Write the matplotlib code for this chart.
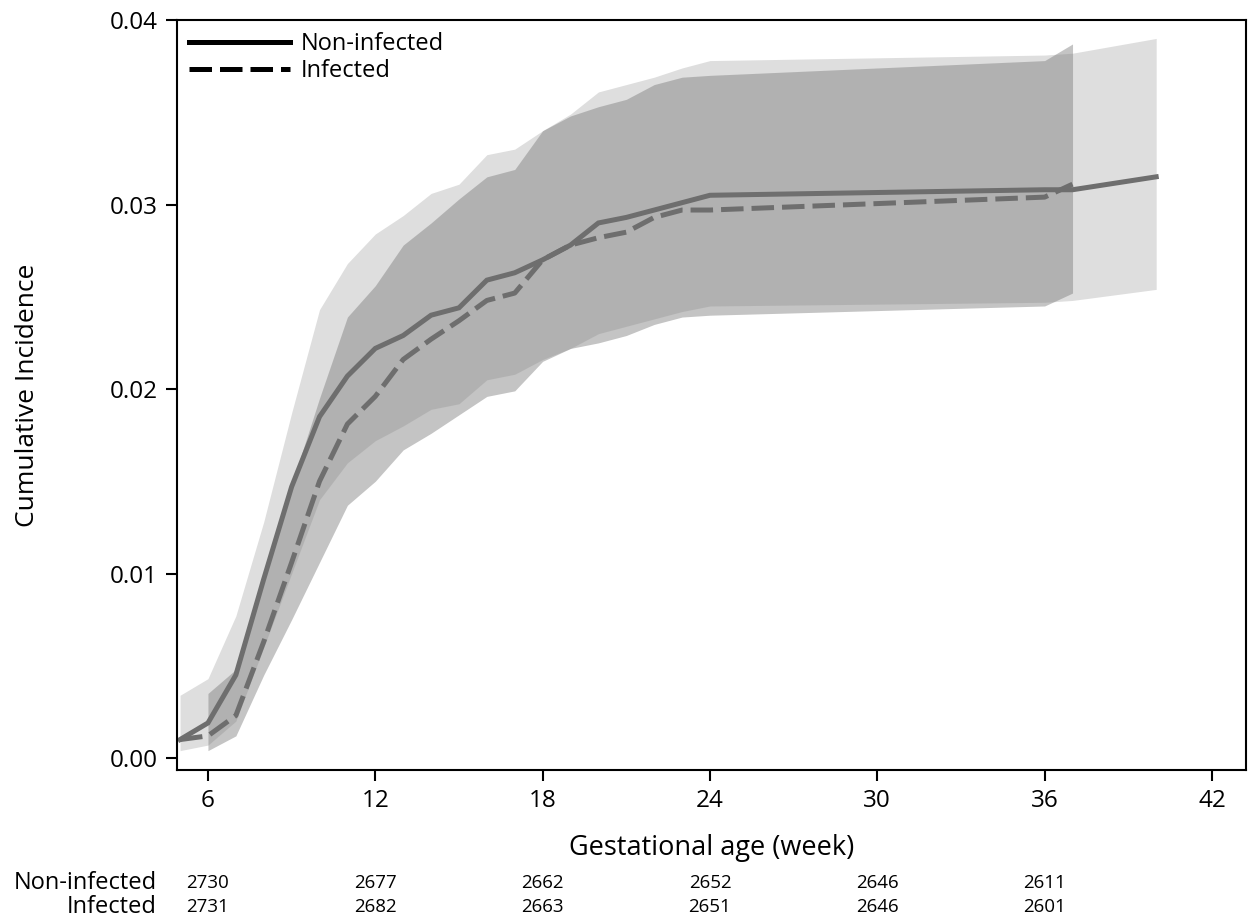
import matplotlib
matplotlib.use('Agg')
import matplotlib.pyplot as plt
from matplotlib.lines import Line2D

plt.rcParams['font.family'] = ['Open Sans', 'DejaVu Sans']

# Non-infected group: cumulative incidence and 95% CI
weeks_ni = [5, 6, 7, 8, 9, 10, 11, 12, 13, 14, 15, 16, 17, 18, 19, 20, 21, 22, 23, 24, 36, 37, 40]
ci_ni = [0.0010, 0.0019, 0.0045, 0.0097, 0.0147, 0.0185, 0.0207, 0.0222, 0.0229, 0.0240, 0.0244,
         0.0259, 0.0263, 0.0270, 0.0278, 0.0290, 0.0293, 0.0297, 0.0301, 0.0305, 0.0308, 0.0308, 0.0315]
hi_ni = [0.0034, 0.0043, 0.0077, 0.0128, 0.0187, 0.0243, 0.0268, 0.0284, 0.0294, 0.0306, 0.0311,
         0.0327, 0.0330, 0.0340, 0.0349, 0.0361, 0.0365, 0.0369, 0.0374, 0.0378, 0.0381, 0.0382, 0.0390]
lo_ni = [0.0004, 0.0007, 0.0020, 0.0060, 0.0100, 0.0140, 0.0160, 0.0172, 0.0180, 0.0189, 0.0192,
         0.0205, 0.0208, 0.0216, 0.0222, 0.0230, 0.0234, 0.0238, 0.0242, 0.0245, 0.0247, 0.0248, 0.0254]

# Infected group
weeks_in = [5, 6, 7, 8, 9, 10, 11, 12, 13, 14, 15, 16, 17, 18, 19, 20, 21, 22, 23, 24, 36, 37]
ci_in = [0.0010, 0.0012, 0.0023, 0.0063, 0.0106, 0.0150, 0.0181, 0.0196, 0.0216, 0.0227, 0.0237,
         0.0248, 0.0252, 0.0270, 0.0278, 0.0282, 0.0285, 0.0293, 0.0297, 0.0297, 0.0304, 0.0311]
weeks_in_band = [6, 7, 8, 9, 10, 11, 12, 13, 14, 15, 16, 17, 18, 19, 20, 21, 22, 23, 24, 36, 37]
hi_in = [0.0035, 0.0048, 0.0098, 0.0148, 0.0195, 0.0239, 0.0256, 0.0278, 0.0290, 0.0303, 0.0315,
         0.0319, 0.0340, 0.0348, 0.0353, 0.0357, 0.0365, 0.0369, 0.0370, 0.0378, 0.0387]
lo_in = [0.0004, 0.0012, 0.0045, 0.0075, 0.0106, 0.0137, 0.0150, 0.0167, 0.0176, 0.0186, 0.0196,
         0.0199, 0.0215, 0.0222, 0.0225, 0.0229, 0.0235, 0.0239, 0.0240, 0.0245, 0.0252]

# number at risk table
risk_weeks = [6, 12, 18, 24, 30, 36]
risk_ni = [2730, 2677, 2662, 2652, 2646, 2611]
risk_in = [2731, 2682, 2663, 2651, 2646, 2601]

fig = plt.figure(figsize=(12.49, 9.22), dpi=100)
ax = fig.add_axes([177/1249, 1 - 770/922, (1246-177)/1249, 750/922])

ax.fill_between(weeks_ni, lo_ni, hi_ni, color='#dedede', lw=0)
ax.fill_between(weeks_in_band, lo_in, hi_in, color='#7c7c7c', alpha=0.45, lw=0)

line_col = '#6e6e6e'
ax.plot(weeks_ni, ci_ni, color=line_col, lw=3.6, solid_joinstyle='miter')
ax.plot(weeks_in, ci_in, color=line_col, lw=3.6, dashes=(4.5, 1.6))

ax.set_xlim(4.89, 43.22)
ax.set_ylim(-0.00065, 0.04)
ax.set_xticks([6, 12, 18, 24, 30, 36, 42])
ax.set_yticks([0.00, 0.01, 0.02, 0.03, 0.04])
ax.set_yticklabels(['0.00', '0.01', '0.02', '0.03', '0.04'])
ax.tick_params(direction='out', length=8, width=1.5, labelsize=17.5, pad=6)
for s in ax.spines.values():
    s.set_linewidth(1.5)

ax.set_xlabel('Gestational age (week)', fontsize=19.5, labelpad=15)
ax.set_ylabel('Cumulative Incidence', fontsize=19, labelpad=50)

handles = [Line2D([], [], color='black', lw=3.6),
           Line2D([], [], color='black', lw=3.6, dashes=(4.5, 1.6))]
ax.legend(handles, ['Non-infected', 'Infected'], loc='upper left', frameon=False,
          fontsize=17, handlelength=4.3, handletextpad=0.45, labelspacing=0.15,
          borderaxespad=0.3, borderpad=0.2)

# risk table under the axis
tr = ax.get_xaxis_transform()
for w, a, b in zip(risk_weeks, risk_ni, risk_in):
    ax.text(w, -0.150, str(a), transform=tr, ha='center', va='center', fontsize=13.5)
    ax.text(w, -0.182, str(b), transform=tr, ha='center', va='center', fontsize=13.5)
ax.text(-0.019, -0.150, 'Non-infected', transform=ax.transAxes, ha='right', va='center', fontsize=17)
ax.text(-0.019, -0.182, 'Infected', transform=ax.transAxes, ha='right', va='center', fontsize=17)

fig.savefig('out.png', dpi=100)
